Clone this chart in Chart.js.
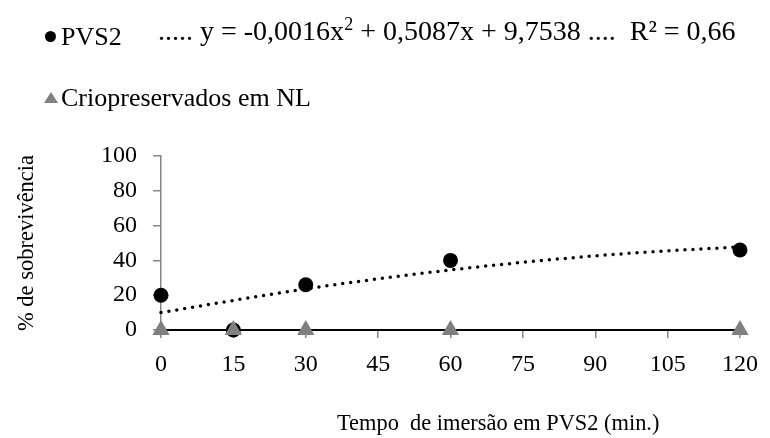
<!DOCTYPE html>
<html>
<head>
<meta charset="utf-8">
<script src="https://cdn.jsdelivr.net/npm/chart.js@4.4.0/dist/chart.umd.min.js"></script>
<style>
    html, body { margin: 0; padding: 0; background: #fff; }
    #wrap { position: relative; width: 770px; height: 438px; font-family: "Liberation Serif", "Times New Roman", serif; color: #000; }
    #chart { position: absolute; left: 0; top: 0; }
    .lg { position: absolute; font-size: 26px; line-height: 1; white-space: nowrap; }
    .dot { position: absolute; width: 11px; height: 11px; border-radius: 50%; background: #000; }
    .tri { position: absolute; width: 0; height: 0; border-left: 7px solid transparent; border-right: 7px solid transparent; border-bottom: 11px solid #808080; }
    #xtitle { position: absolute; left: 337px; top: 412px; font-size: 22.4px; line-height: 1; white-space: pre; }
</style>
</head>
<body>
<div id="wrap">
    <canvas id="chart" width="770" height="438"></canvas>
    <div class="dot" style="left:45px; top:31px;"></div>
    <div class="lg" style="left:61px; top:24px;">PVS2</div>
    <div class="lg" style="left:158px; top:15px; font-size:28px;">..... y = -0,0016x<sup style="font-size:18px; vertical-align:10px;">2</sup> + 0,5087x + 9,7538 ....&nbsp; R² = 0,66</div>
    <div class="tri" style="left:44px; top:92px;"></div>
    <div class="lg" style="left:61px; top:85px;">Criopreservados em NL</div>
    <div id="xtitle">Tempo  de imersão em PVS2 (min.)</div>
</div>
<script>
// 数据
const tempos = [0, 15, 30, 60, 120];
const pvs2 = [20, 0, 26, 40, 46];
const criopreservados = [0, 0, 0, 0, 0];
// 趋势线
const trendX = [0, 15, 30, 45, 60, 75, 90, 105, 120];
const trendY = [10, 17, 23.6, 29.4, 34.5, 38.9, 42.6, 45.5, 47.7];
const xTicks = [0, 15, 30, 45, 60, 75, 90, 105, 120];
const yTicks = [0, 20, 40, 60, 80, 100];

const toPoints = (xs, ys) => xs.map((x, i) => ({ x: x, y: ys[i] }));

const ctx = document.getElementById('chart').getContext('2d');
new Chart(ctx, {
    type: 'scatter',
    data: {
        datasets: [
            {
                label: 'Criopreservados em NL',
                data: toPoints(tempos, criopreservados),
                pointStyle: 'triangle',
                pointRadius: 10,
                backgroundColor: '#808080',
                borderColor: '#808080',
                borderWidth: 0,
                clip: false,
                order: 0
            },
            {
                label: 'PVS2',
                data: toPoints(tempos, pvs2),
                pointStyle: 'circle',
                pointRadius: 7.5,
                backgroundColor: '#000',
                borderColor: '#000',
                borderWidth: 0,
                clip: false,
                order: 1
            },
            {
                label: 'Tendência',
                data: toPoints(trendX, trendY),
                showLine: true,
                pointRadius: 0,
                borderColor: '#000',
                borderWidth: 3.5,
                borderDash: [0, 8],
                borderCapStyle: 'round',
                cubicInterpolationMode: 'monotone',
                clip: false,
                order: 2
            }
        ]
    },
    options: {
        responsive: false,
        animation: false,
        layout: { padding: { top: 156, right: 23, left: 0, bottom: 0 } },
        plugins: {
            legend: { display: false },
            tooltip: { enabled: false }
        },
        scales: {
            x: {
                type: 'linear',
                min: 0,
                max: 120,
                afterBuildTicks: s => { s.ticks = xTicks.map(v => ({ value: v })); },
                afterFit: s => { s.height = 108; },
                border: { color: '#000', width: 2 },
                grid: { drawOnChartArea: false, color: '#868686', tickLength: 8, lineWidth: 1.5 },
                ticks: { color: '#000', padding: 12, font: { family: 'Liberation Serif', size: 24 } }
            },
            y: {
                min: 0,
                max: 100,
                afterBuildTicks: s => { s.ticks = yTicks.map(v => ({ value: v })); },
                afterFit: s => { s.width = 161; },
                border: { color: '#868686', width: 1.5 },
                grid: { drawOnChartArea: false, color: '#868686', tickLength: 8, lineWidth: 1.5 },
                ticks: { color: '#000', padding: 16, font: { family: 'Liberation Serif', size: 24 } },
                title: {
                    display: true,
                    text: '% de sobrevivência',
                    color: '#000',
                    padding: { top: 14, bottom: 0 },
                    font: { family: 'Liberation Serif', size: 22.5 }
                }
            }
        }
    }
});
</script>
</body>
</html>
